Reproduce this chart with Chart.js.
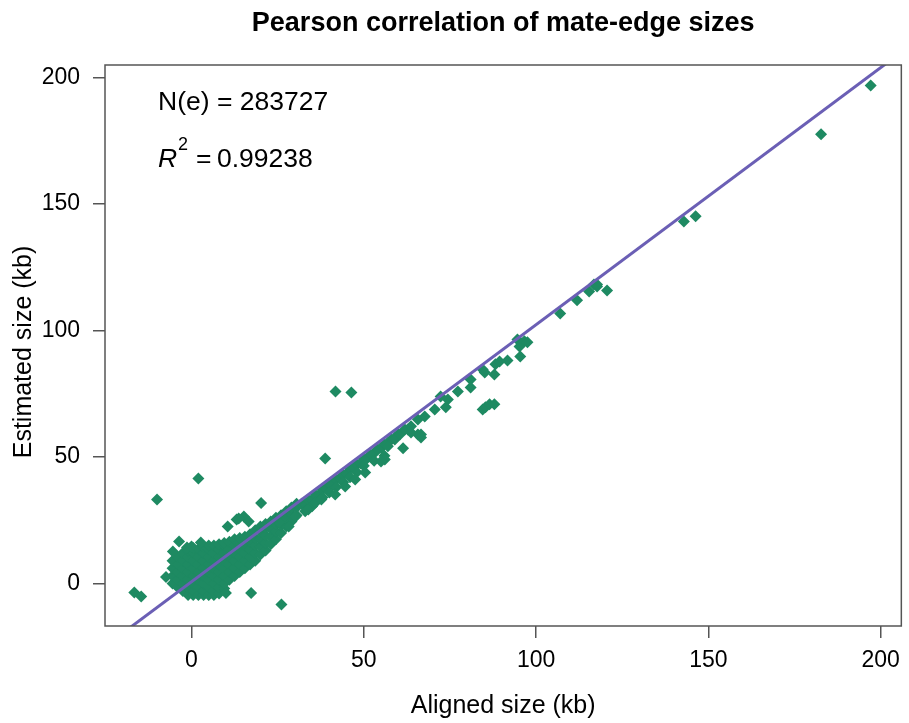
<!DOCTYPE html>
<html>
<head>
<meta charset="utf-8">
<script src="https://cdn.jsdelivr.net/npm/chart.js@4.4.1/dist/chart.umd.min.js"></script>
<style>
  html, body { margin: 0; padding: 0; background: #fff; }
  canvas { display: block; }
</style>
</head>
<body>
<canvas id="c" width="909" height="723"></canvas>
<script>
(function () {
    'use strict';

    // dense cluster near the origin, [aligned kb, estimated kb]
    var corePoints = [
        [-5.5, 0], [-5.5, 3], [-5.5, 6], [-5.5, 9],
        [-4, -1.5], [-4, 1.5], [-4, 4.5], [-4, 7.5], [-4, 10.5],
        [-2.5, -3], [-2.5, 0], [-2.5, 3], [-2.5, 6], [-2.5, 9], [-2.5, 12],
        [-1, -4.5], [-1, -1.5], [-1, 1.5], [-1, 4.5], [-1, 7.5], [-1, 10.5], [-1, 13],
        [0.5, -4.5], [0.5, -3], [0.5, 0], [0.5, 3], [0.5, 6], [0.5, 9], [0.5, 12], [0.5, 14],
        [2, -4.5], [2, -1.5], [2, 1.5], [2, 4.5], [2, 7.5], [2, 10.5], [2, 13.5],
        [3.5, -4.5], [3.5, -3], [3.5, 0], [3.5, 3], [3.5, 6], [3.5, 9], [3.5, 12], [3.5, 14.5],
        [5, -4.5], [5, -1.5], [5, 1.5], [5, 4.5], [5, 7.5], [5, 10.5], [5, 13.5], [5, 15],
        [6.5, -4.5], [6.5, -3], [6.5, 0], [6.5, 3], [6.5, 6], [6.5, 9], [6.5, 12], [6.5, 15],
        [8, -4], [8, -1.5], [8, 1.5], [8, 4.5], [8, 7.5], [8, 10.5], [8, 13.5], [8, 15.5],
        [9.5, -2], [9.5, 0], [9.5, 3], [9.5, 6], [9.5, 9], [9.5, 12], [9.5, 15], [9.5, 16],
        [11, 1.5], [11, 4.5], [11, 7.5], [11, 10.5], [11, 13.5], [11, 16.5],
        [12.5, 3], [12.5, 6], [12.5, 9], [12.5, 12], [12.5, 15], [12.5, 17.5],
        [14, 4.5], [14, 7.5], [14, 10.5], [14, 13.5], [14, 16.5], [14, 18],
        [15.5, 6], [15.5, 9], [15.5, 12], [15.5, 15], [15.5, 18.5],
        [17, 7.5], [17, 10.5], [17, 13.5], [17, 16.5], [17, 19.5],
        [18.5, 9], [18.5, 12], [18.5, 15], [18.5, 18], [18.5, 21],
        [20, 11.5], [20, 14.5], [20, 17.5], [20, 20.5], [20, 22.5],
        [21.5, 13], [21.5, 16], [21.5, 19], [21.5, 22], [21.5, 23.5],
        [23, 15.5], [23, 18.5], [23, 21.5], [23, 24.5],
        [24.5, 17.5], [24.5, 20.5], [24.5, 23.5], [24.5, 26],
        [26, 20], [26, 23], [26, 26], [26, 27],
        [27.5, 22.5], [27.5, 25.5], [27.5, 28.5],
        [29, 24.5], [29, 27.5], [29, 30],
        [30.5, 27], [30.5, 30], [30.5, 31.5]
    ];

    // band along the diagonal, [aligned kb, estimated kb]
    var bandPoints = [
        [32, 31.5], [33, 31], [34, 33], [35, 33], [36, 35], [37, 35], [38, 37], [39, 37.5],
        [40, 39.5], [41, 39], [42, 41], [43, 41.5], [44, 43], [45, 43.5], [46, 45.5], [47, 45.5],
        [48, 47], [49, 47.5], [50, 49.5], [51, 49.5], [52, 51], [53, 51.5], [54, 53], [55, 53.5],
        [56, 55], [57, 55.5], [58, 57], [59, 57.5], [60, 59],
        [33, 28.5], [35, 30.5], [36, 32], [38, 34], [40, 36], [42, 38], [44, 40], [46, 42],
        [48, 44], [50, 46.5], [53, 48.5], [56, 50.5],
        [47.5, 41.1], [44.6, 38.3], [41.7, 35.2], [37.7, 33.2], [33.9, 29.2], [30.2, 26.5],
        [28.2, 22.5], [25.3, 24.1], [50.4, 43.9], [56.1, 49], [55, 48.2], [61.4, 53.4],
        [65.7, 58.9], [66.6, 57.7], [62.8, 60.9], [59, 56.9], [57, 54.2],
        [60.5, 58.9], [61.9, 60.9], [63.7, 62.1], [63.7, 59.7], [65.7, 64.8], [66.6, 58.9],
        [67.7, 66], [70.6, 68.8], [72.3, 73.9], [73.8, 69.6], [74.4, 72.7], [77.3, 75.9],
        [81, 80.6], [81, 77.5], [84.5, 84.6], [85.1, 83.4], [87.9, 82.6], [88.2, 86.6],
        [84.5, 68.8], [85.3, 69.6], [86.5, 70.8], [87.9, 70.8],
        [89.4, 87.7], [91.7, 88.1], [95.4, 89.7], [94.6, 96.4], [95.2, 93.7], [96.6, 95.7],
        [97.5, 95.3], [107, 106.7], [111.9, 111.9], [115.4, 115.4], [116.8, 118.2],
        [117.7, 117.4], [117.7, 118.2], [120.6, 115.8]
    ];

    // scattered outliers, [aligned kb, estimated kb]
    var outlierPoints = [
        [-10, 33.2], [2, 41.5], [-16.6, -3.6], [-14.6, -5.1], [10, -3.8], [17.3, -3.8],
        [26.1, -8.3], [-7.4, 2.6], [-5.4, 12.6], [-3.6, 16.6], [-1.3, 14.2], [0, 14.6],
        [2.7, 16.2], [10.5, 22.5], [13.1, 25.3], [15.2, 26.5], [16.6, 24.5], [13.7, 25.7],
        [20.2, 31.8], [38.8, 49.4], [41.8, 75.9], [46.4, 75.5],
        [142.9, 143.1], [146.3, 145.1], [182.7, 177.5], [197.1, 196.8]
    ];

    // fitted line end points, [aligned kb, estimated kb]
    var fitPoints = [[-30, -29.8], [215, 219.1]];

    var xTicks = [0, 50, 100, 150, 200];
    var yTicks = [0, 50, 100, 150, 200];

    var FONT = '"Liberation Sans", Arial, Helvetica, sans-serif';
    var toXY = function (list) {
        return list.map(function (p) { return { x: p[0], y: p[1] }; });
    };
    var scatterData = toXY(corePoints).concat(toXY(bandPoints)).concat(toXY(outlierPoints));

    var frame = {
        id: 'frame',
        afterDraw: function (chart) {
            var ctx = chart.ctx, a = chart.chartArea;
            ctx.save();
            ctx.strokeStyle = '#555';
            ctx.lineWidth = 1.5;
            ctx.strokeRect(a.left, a.top, a.right - a.left, a.bottom - a.top);

            ctx.fillStyle = '#000';
            ctx.textAlign = 'center';
            ctx.textBaseline = 'alphabetic';
            ctx.font = 'bold 27px ' + FONT;
            ctx.fillText('Pearson correlation of mate-edge sizes', (a.left + a.right) / 2, 31);

            ctx.font = '25px ' + FONT;
            ctx.fillText('Aligned size (kb)', (a.left + a.right) / 2, 713);
            ctx.save();
            ctx.translate(31, 352);
            ctx.rotate(-Math.PI / 2);
            ctx.fillText('Estimated size (kb)', 0, 0);
            ctx.restore();

            ctx.textAlign = 'left';
            ctx.font = '26.5px ' + FONT;
            ctx.fillText('N(e) = 283727', 158, 110);
            ctx.font = 'italic 26.5px ' + FONT;
            ctx.fillText('R', 158, 167);
            ctx.font = '18px ' + FONT;
            ctx.fillText('2', 178, 150);
            ctx.font = '26.5px ' + FONT;
            ctx.fillText('=', 196, 167);
            ctx.fillText('0.99238', 217, 167);
            ctx.restore();
        }
    };

    new Chart(document.getElementById('c'), {
        type: 'scatter',
        data: {
            datasets: [
                {
                    type: 'line',
                    data: toXY(fitPoints),
                    borderColor: '#6b5fb5',
                    borderWidth: 3,
                    pointRadius: 0,
                    fill: false,
                    clip: 0,
                    order: 0
                },
                {
                    data: scatterData,
                    backgroundColor: '#1e8a62',
                    borderWidth: 0,
                    pointStyle: 'rectRot',
                    pointRadius: 6,
                    clip: 0,
                    order: 1
                }
            ]
        },
        options: {
            responsive: false,
            animation: false,
            layout: { padding: { top: 65, right: 4, left: 0, bottom: 0 } },
            plugins: { legend: { display: false }, tooltip: { enabled: false } },
            scales: {
                x: {
                    type: 'linear', min: -25.1, max: 206,
                    afterBuildTicks: function (s) { s.ticks = xTicks.map(function (v) { return { value: v }; }); },
                    afterFit: function (s) { s.height = 97; },
                    grid: { drawOnChartArea: false, drawTicks: true, tickLength: 12, color: '#555', lineWidth: 1.5 },
                    border: { display: false },
                    ticks: { padding: 9, color: '#000', font: { family: FONT, size: 23 }, maxRotation: 0 }
                },
                y: {
                    type: 'linear', min: -16.8, max: 204.9,
                    afterBuildTicks: function (s) { s.ticks = yTicks.map(function (v) { return { value: v }; }); },
                    afterFit: function (s) { s.width = 105; },
                    grid: { drawOnChartArea: false, drawTicks: true, tickLength: 12, color: '#555', lineWidth: 1.5 },
                    border: { display: false },
                    ticks: { padding: 13, color: '#000', font: { family: FONT, size: 23 } }
                }
            }
        },
        plugins: [frame]
    });
})();
</script>
</body>
</html>
